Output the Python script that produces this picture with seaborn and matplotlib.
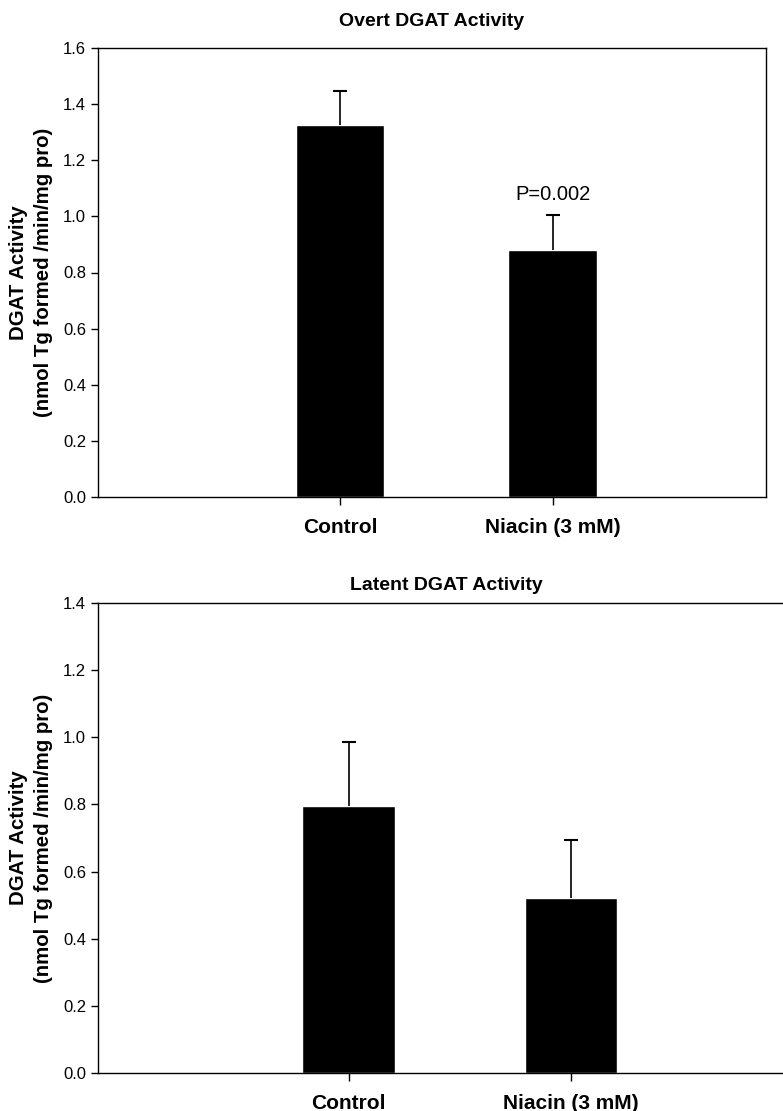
import pandas as pd
import matplotlib
matplotlib.use("Agg")
import matplotlib.pyplot as plt
import seaborn as sns

groups = ["Control", "Niacin (3 mM)"]
overt_mean = [1.325, 0.88]
overt_err = [0.12, 0.125]
latent_mean = [0.795, 0.52]
latent_err = [0.19, 0.175]

sns.set_style("ticks")
plt.rcParams['font.family'] = ['Liberation Sans', 'DejaVu Sans']
plt.rcParams['text.color'] = 'black'
plt.rcParams['xtick.color'] = 'black'
plt.rcParams['ytick.color'] = 'black'
plt.rcParams['axes.labelcolor'] = 'black'

W, H = 783, 1111
fig = plt.figure(figsize=(W / 100, H / 100), dpi=100)


def px_axes(x0, y0, x1, y1):
    return fig.add_axes([x0 / W, 1 - y1 / H, (x1 - x0) / W, (y1 - y0) / H])


def panel(ax, means, errs, title, ymax, xlim, title_pad):
    df = pd.DataFrame({"group": groups, "value": means})
    sns.barplot(data=df, x="group", y="value", color="black", width=0.415,
                errorbar=None, ax=ax, saturation=1)
    _, caps, _ = ax.errorbar([0, 1], means, yerr=[[0, 0], errs], fmt="none",
                             ecolor="black", elinewidth=1.2, capsize=5,
                             capthick=1.5)
    caps[0].set_visible(False)  # one-sided bars: hide the lower cap
    ax.set_xlim(*xlim)
    ax.set_ylim(0, ymax)
    ax.set_yticks([i / 10 for i in range(0, int(round(ymax * 10)) + 1, 2)])
    ax.yaxis.set_major_formatter(matplotlib.ticker.FormatStrFormatter("%.1f"))
    ax.set_xlabel("")
    ax.set_ylabel("DGAT Activity\n(nmol Tg formed /min/mg pro)", fontsize=14.7,
                  fontweight="bold", labelpad=7, linespacing=1.4)
    ax.set_title(title, fontsize=14, fontweight="bold", pad=title_pad)
    ax.tick_params(axis="y", labelsize=12, direction="out", length=5, width=1)
    ax.tick_params(axis="x", labelsize=15, direction="out", length=6, width=1,
                   pad=9)
    for lab in ax.get_xticklabels():
        lab.set_fontweight("bold")
    for s in ax.spines.values():
        s.set_visible(True)
        s.set_linewidth(1.0)
        s.set_color("black")


ax1 = px_axes(98, 48, 766, 497)
panel(ax1, overt_mean, overt_err, "Overt DGAT Activity", 1.6, (-1.14, 2.005), 16)
ax1.text(1, overt_mean[1] + overt_err[1] + 0.04, "P=0.002", ha="center",
         va="bottom", fontsize=14.5)

ax2 = px_axes(98, 603, 794, 1073)
panel(ax2, latent_mean, latent_err, "Latent DGAT Activity", 1.4, (-1.125, 2.0), 9.5)

fig.savefig("out.png", dpi=100)
